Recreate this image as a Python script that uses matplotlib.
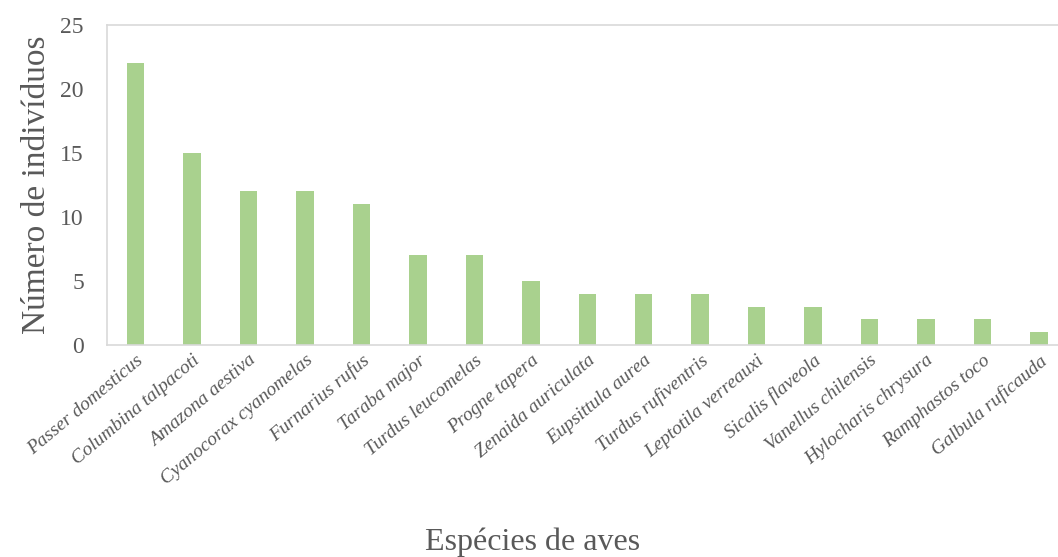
import matplotlib.pyplot as plt
import numpy as np

species = [
    "Passer domesticus", "Columbina talpacoti", "Amazona aestiva",
    "Cyanocorax cyanomelas", "Furnarius rufus", "Taraba major",
    "Turdus leucomelas", "Progne tapera", "Zenaida auriculata",
    "Eupsittula aurea", "Turdus rufiventris", "Leptotila verreauxi",
    "Sicalis flaveola", "Vanellus chilensis", "Hylocharis chrysura",
    "Ramphastos toco", "Galbula ruficauda",
]
counts = [22, 15, 12, 12, 11, 7, 7, 5, 4, 4, 4, 3, 3, 2, 2, 2, 1]
yticks = [0, 5, 10, 15, 20, 25]

TEXT = "#595959"
FRAME = "#d9d9d9"

plt.rcParams["font.family"] = ["Liberation Serif", "DejaVu Serif"]

fig = plt.figure(figsize=(10.58, 5.57), dpi=100)
ax = fig.add_axes([0.1016, 0.3806, 0.907, 0.5745])

x = np.arange(len(species))
ax.bar(x, counts, width=0.31, color="#a9d18e", zorder=2)

ax.set_xlim(-0.5, len(species) - 0.5)
ax.set_ylim(0, 25)
ax.set_yticks(yticks)
ax.set_yticklabels([str(t) for t in yticks], fontsize=17, color=TEXT)
ax.set_xticks(x)
ax.set_xticklabels(species, rotation=40, ha="right", rotation_mode="anchor",
                   fontsize=14, style="italic", color=TEXT)
ax.tick_params(axis="both", length=0)
ax.tick_params(axis="y", pad=17)
ax.tick_params(axis="x", pad=5)

for s in ax.spines.values():
    s.set_color(FRAME)
    s.set_linewidth(1.2)

ax.set_ylabel("Número de indivíduos", fontsize=24, color=TEXT, labelpad=6)
fig.text(0.503, 0.013, "Espécies de aves", fontsize=23, color=TEXT,
         ha="center", va="baseline")

fig.savefig("out.png", dpi=100)
